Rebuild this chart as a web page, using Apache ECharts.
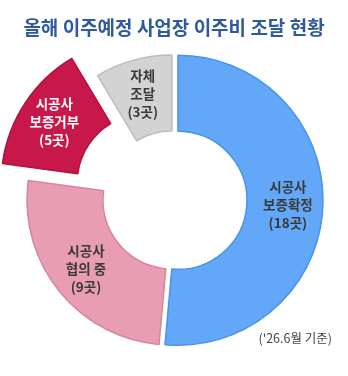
<!DOCTYPE html>
<html>
<head>
<meta charset="utf-8">
<script src="https://cdn.jsdelivr.net/npm/echarts@6/dist/echarts.min.js"></script>
<style>
  html, body { margin: 0; padding: 0; background: #fff; }
  #main { width: 348px; height: 376px; }
</style>
</head>
<body>
<div id="main"></div>
<script>
var titleText = '올해 이주예정 사업장 이주비 조달 현황';
var noteText = "('26.6월 기준)";
var names = ['시공사\n보증확정', '시공사\n협의 중', '시공사\n보증거부', '자체\n조달'];
var counts = [18, 9, 5, 3];
var fills = ['#63a8f8', '#e89db2', '#c8174b', '#d3d3d3'];
var borders = ['#4a92ea', '#d6869d', '#b0123f', '#bdbdbd'];
var labelColors = ['#3a3a3a', '#3a3a3a', '#ffffff', '#3a3a3a'];

var myChart = echarts.init(document.getElementById('main'));

// builds one pie layer; only the indexes in "show" are drawn, the rest stay as empty placeholders
function layer(show, selIdx) {
  return counts.map(function (v, i) {
    var on = show.indexOf(i) >= 0;
    return {
      value: v,
      name: names[i],
      selected: i === selIdx,
      itemStyle: on ? { color: fills[i], borderColor: borders[i], borderWidth: 1.5 }
                    : { color: 'transparent', borderWidth: 0 },
      label: on ? {
        show: true,
        formatter: names[i] + '\n(' + v + '곳)',
        color: labelColors[i]
      } : { show: false }
    };
  });
}

var common = {
  type: 'pie',
  center: [172, 200],
  radius: [69, 145],
  startAngle: 90,
  clockwise: true,
  selectedMode: 'single',
  silent: true,
  animation: false,
  label: {
    position: 'inside',
    fontFamily: 'Noto Sans CJK KR',
    fontSize: 13.5,
    fontWeight: 'bold',
    lineHeight: 18,
    align: 'center'
  },
  labelLine: { show: false },
  emphasis: { disabled: true }
};

var option = {
  backgroundColor: '#ffffff',
  title: {
    text: titleText,
    left: 'center',
    top: 13,
    textStyle: {
      fontFamily: 'Noto Sans CJK KR',
      fontSize: 19,
      fontWeight: 'bold',
      color: '#2f5a9e'
    }
  },
  graphic: [{
    type: 'text',
    right: 16,
    top: 332,
    style: {
      text: noteText,
      font: '12.5px "Noto Sans CJK KR"',
      fill: '#444444'
    }
  }],
  series: [
    Object.assign({}, common, { selectedOffset: 6, data: layer([0], 0) }),
    Object.assign({}, common, { selectedOffset: 31, data: layer([1, 2, 3], 2) })
  ]
};
myChart.setOption(option);
</script>
</body>
</html>
